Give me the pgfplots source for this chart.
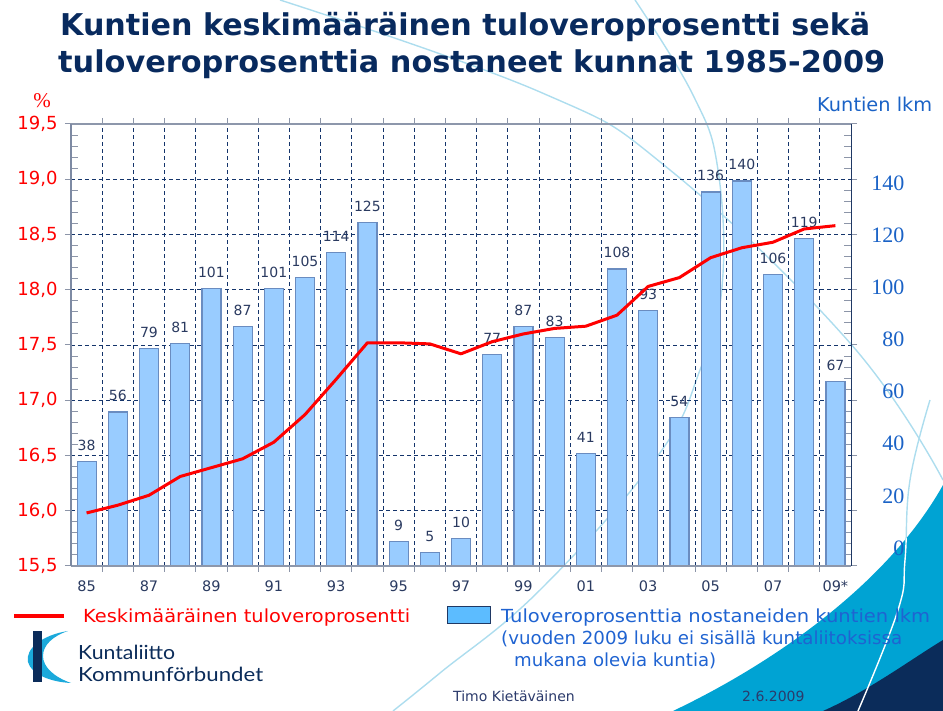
\documentclass[border=0pt]{standalone}
\usepackage{pgfplots}
\pgfplotsset{compat=1.18}
\usepackage{pgfplotstable}
\usepackage{fontspec}
\setmainfont{DejaVu Sans}
\newfontfamily\serifnum{Liberation Serif}
\newfontfamily\logofont{Lato}
\definecolor{barfill}{HTML}{99CCFF}
\definecolor{barline}{HTML}{6A8CC0}
\definecolor{gridnavy}{HTML}{14346B}
\definecolor{tickgray}{HTML}{8C95A8}
\definecolor{labnavy}{HTML}{2A3A60}
\definecolor{rightblue}{HTML}{1A62C6}
\definecolor{legblue}{HTML}{1F63D1}
\definecolor{legbox}{HTML}{5CBCFF}
\definecolor{boxnavy}{HTML}{1F3864}
\definecolor{titlenavy}{HTML}{082A5E}
\definecolor{lightarc}{HTML}{ADDDEE}
\definecolor{tealc}{HTML}{00A3D3}
\definecolor{deepnavy}{HTML}{0B2C5A}
\definecolor{logocyan}{HTML}{1BA9DB}
\definecolor{footnavy}{HTML}{2B3A6B}
\definecolor{leftgray}{HTML}{7D8AA3}
\definecolor{framegray}{HTML}{8D97AB}
\newcommand{\fitw}[2]{\resizebox{#1}{\height}{#2}}
\pgfplotstableread{
year tax count
85 15.98 38
86 16.05 56
87 16.14 79
88 16.31 81
89 16.39 101
90 16.47 87
91 16.62 101
92 16.87 105
93 17.19 114
94 17.52 125
95 17.52 9
96 17.51 5
97 17.42 10
98 17.53 77
99 17.60 87
100 17.65 83
101 17.67 41
102 17.77 108
103 18.03 93
104 18.11 54
105 18.29 136
106 18.38 140
107 18.43 106
108 18.55 119
109 18.58 67
}\data
\pgfplotsset{base/.style={at={(71pt,145pt)}, anchor=south west, scale only axis,
  width=780pt, height=442pt, xmin=84.5, xmax=109.5}}
\begin{document}
\begin{tikzpicture}[x=1pt,y=1pt]
\path[use as bounding box] (0,0) rectangle (943,711);
% background decoration
\begin{scope}
\clip (0,0) rectangle (943,711);
\draw[lightarc, line width=1.4pt] plot[smooth, tension=0.7] coordinates {(280,711) (540,619) (670,541) (850,368) (943,231)};
\draw[lightarc, line width=1.4pt] plot[smooth, tension=0.7] coordinates {(635,711) (693,616) (718,541) (722,424) (700,341) (657,254) (540,121) (440,38) (393,0)};
\draw[lightarc, line width=1.4pt] plot[smooth, tension=0.7] coordinates {(930,311) (910,231) (905,151) (898,101) (858,0)};
\fill[tealc] (673,0) .. controls (780,51) and (890,131) .. (943,226) -- (943,0) -- cycle;
\fill[deepnavy] (823,0) .. controls (870,21) and (910,51) .. (943,71) -- (943,0) -- cycle;
\begin{scope}
\clip (673,0) .. controls (780,51) and (890,131) .. (943,226) -- (943,0) -- cycle;
\draw[white, line width=1.4pt] plot[smooth, tension=0.7] coordinates {(930,311) (910,231) (905,151) (898,101) (858,0)};
\end{scope}
\end{scope}
% title
\node[anchor=base west, inner sep=0, text=titlenavy] at (60,675) {\fitw{810pt}{\bfseries\fontsize{30}{30}\selectfont Kuntien keskimääräinen tuloveroprosentti sekä}};
\node[anchor=base west, inner sep=0, text=titlenavy] at (58,638) {\fitw{827pt}{\bfseries\fontsize{30}{30}\selectfont tuloveroprosenttia nostaneet kunnat 1985-2009}};
% axis A: grid and left ticks
\begin{axis}[base, ymin=15.5, ymax=19.5,
  axis line style={draw=none},
  tick align=outside, major tick length=6pt,
  tick style={color=tickgray, line width=1pt},
  xtick={85.5,86.5,87.5,88.5,89.5,90.5,91.5,92.5,93.5,94.5,95.5,96.5,97.5,98.5,99.5,100.5,101.5,102.5,103.5,104.5,105.5,106.5,107.5,108.5},
  xticklabels={},
  xmajorgrids, ymajorgrids,
  grid style={gridnavy, line width=0.9pt, dash pattern=on 4pt off 3pt},
  ytick={15.5,16,16.5,17,17.5,18,18.5,19,19.5},
  yticklabel style={font=\fontsize{18}{18}\selectfont, text=red, xshift=-4pt,
    /pgf/number format/fixed, /pgf/number format/fixed zerofill,
    /pgf/number format/precision=1, /pgf/number format/use comma,
    /pgf/number format/assume math mode=true},
  extra y ticks={15.6,15.7,15.8,15.9,16.1,16.2,16.3,16.4,16.6,16.7,16.8,16.9,17.1,17.2,17.3,17.4,17.6,17.7,17.8,17.9,18.1,18.2,18.3,18.4,18.6,18.7,18.8,18.9,19.1,19.2,19.3,19.4},
  extra y tick labels={},
  extra y tick style={tick align=inside, grid=none, major tick length=7pt},
  extra x ticks={85,87,89,91,93,95,97,99,101,103,105,107,109},
  extra x tick labels={85,87,89,91,93,95,97,99,01,03,05,07,09*},
  extra x tick style={major tick length=0pt, grid=none},
  xticklabel style={font=\fontsize{14.5}{14.5}\selectfont, text=labnavy, yshift=-11pt},
]
\addplot[draw=none] coordinates {(90,17)};
\end{axis}
% axis B: bars
\begin{axis}[base, ymin=0, ymax=160.7, hide axis, ybar, bar width=19pt,
  nodes near coords, /pgf/number format/assume math mode=true,
  every node near coord/.append style={font=\fontsize{14}{14}\selectfont, text=labnavy, anchor=base, yshift=11pt}]
\addplot[fill=barfill, draw=barline, line width=1.2pt] table[x=year, y=count]{\data};
\end{axis}
% axis C: right labels
\begin{axis}[base, ymin=-6.9, ymax=162.6, axis x line=none, axis y line*=right,
  axis line style={draw=none}, ytick={0,20,40,60,80,100,120,140}, major tick length=0pt,
  yticklabel style={font=\serifnum\fontsize{22}{22}\selectfont, text=rightblue, anchor=east, xshift=57pt,
    /pgf/number format/assume math mode=true}]
\addplot[draw=none] coordinates {(90,50)};
\end{axis}
% axis D: line and frame
\begin{axis}[base, ymin=15.5, ymax=19.5, hide axis, clip=false]
\addplot[red, line width=3pt, line join=round, mark=none] table[x=year, y=tax]{\data};
\draw[framegray, line width=1.5pt] (rel axis cs:0,1) -- (rel axis cs:1,1);
\draw[boxnavy, line width=1pt] (rel axis cs:1,0) -- (rel axis cs:1,1);
\draw[framegray, line width=1.5pt] (rel axis cs:0,0) -- (rel axis cs:1,0);
\draw[leftgray, line width=2.5pt] (rel axis cs:0,0) -- (rel axis cs:0,1);
\end{axis}
% axis titles
\node[anchor=base, inner sep=0, text=red] at (42,603) {\serifnum\fontsize{21}{21}\selectfont\%};
\node[anchor=base west, inner sep=0, text=rightblue] at (817,599) {\fitw{115pt}{\fontsize{19}{19}\selectfont Kuntien lkm}};
% legend
\draw[red, line width=4pt] (14,95) -- (64,95);
\node[anchor=base west, inner sep=0, text=red] at (83,88) {\fitw{327pt}{\fontsize{18}{18}\selectfont Keskimääräinen tuloveroprosentti}};
\draw[fill=legbox, draw=boxnavy, line width=1pt] (447,87) rectangle (490,104);
\node[anchor=base west, inner sep=0, text=legblue] at (501,88) {\fitw{429pt}{\fontsize{18}{18}\selectfont Tuloveroprosenttia nostaneiden kuntien lkm}};
\node[anchor=base west, inner sep=0, text=legblue] at (501,66) {\fitw{401pt}{\fontsize{18}{18}\selectfont (vuoden 2009 luku ei sisällä kuntaliitoksissa}};
\node[anchor=base west, inner sep=0, text=legblue] at (514,44) {\fitw{202pt}{\fontsize{18}{18}\selectfont mukana olevia kuntia)}};
% logo
\fill[logocyan] (68,80) .. controls (42,76) and (25,62) .. (28,49) .. controls (31,37) and (50,29) .. (71,28) .. controls (54,34) and (43,44) .. (43,55) .. controls (43,66) and (53,75) .. (68,80) -- cycle;
\fill[deepnavy] (33,29) rectangle (42,80);
\node[anchor=base west, inner sep=0, text=deepnavy] at (78,51) {\fitw{97pt}{\logofont\fontsize{19.5}{19.5}\selectfont Kuntaliitto}};
\node[anchor=base west, inner sep=0, text=deepnavy] at (78,29) {\fitw{185pt}{\logofont\fontsize{19.5}{19.5}\selectfont Kommunförbundet}};
% footer
\node[anchor=base west, inner sep=0, text=footnavy] at (453,9) {\fontsize{14}{14}\selectfont Timo Kietäväinen};
\node[anchor=base west, inner sep=0, text=footnavy] at (742,9) {\fontsize{14}{14}\selectfont 2.6.2009};
\end{tikzpicture}
\end{document}
